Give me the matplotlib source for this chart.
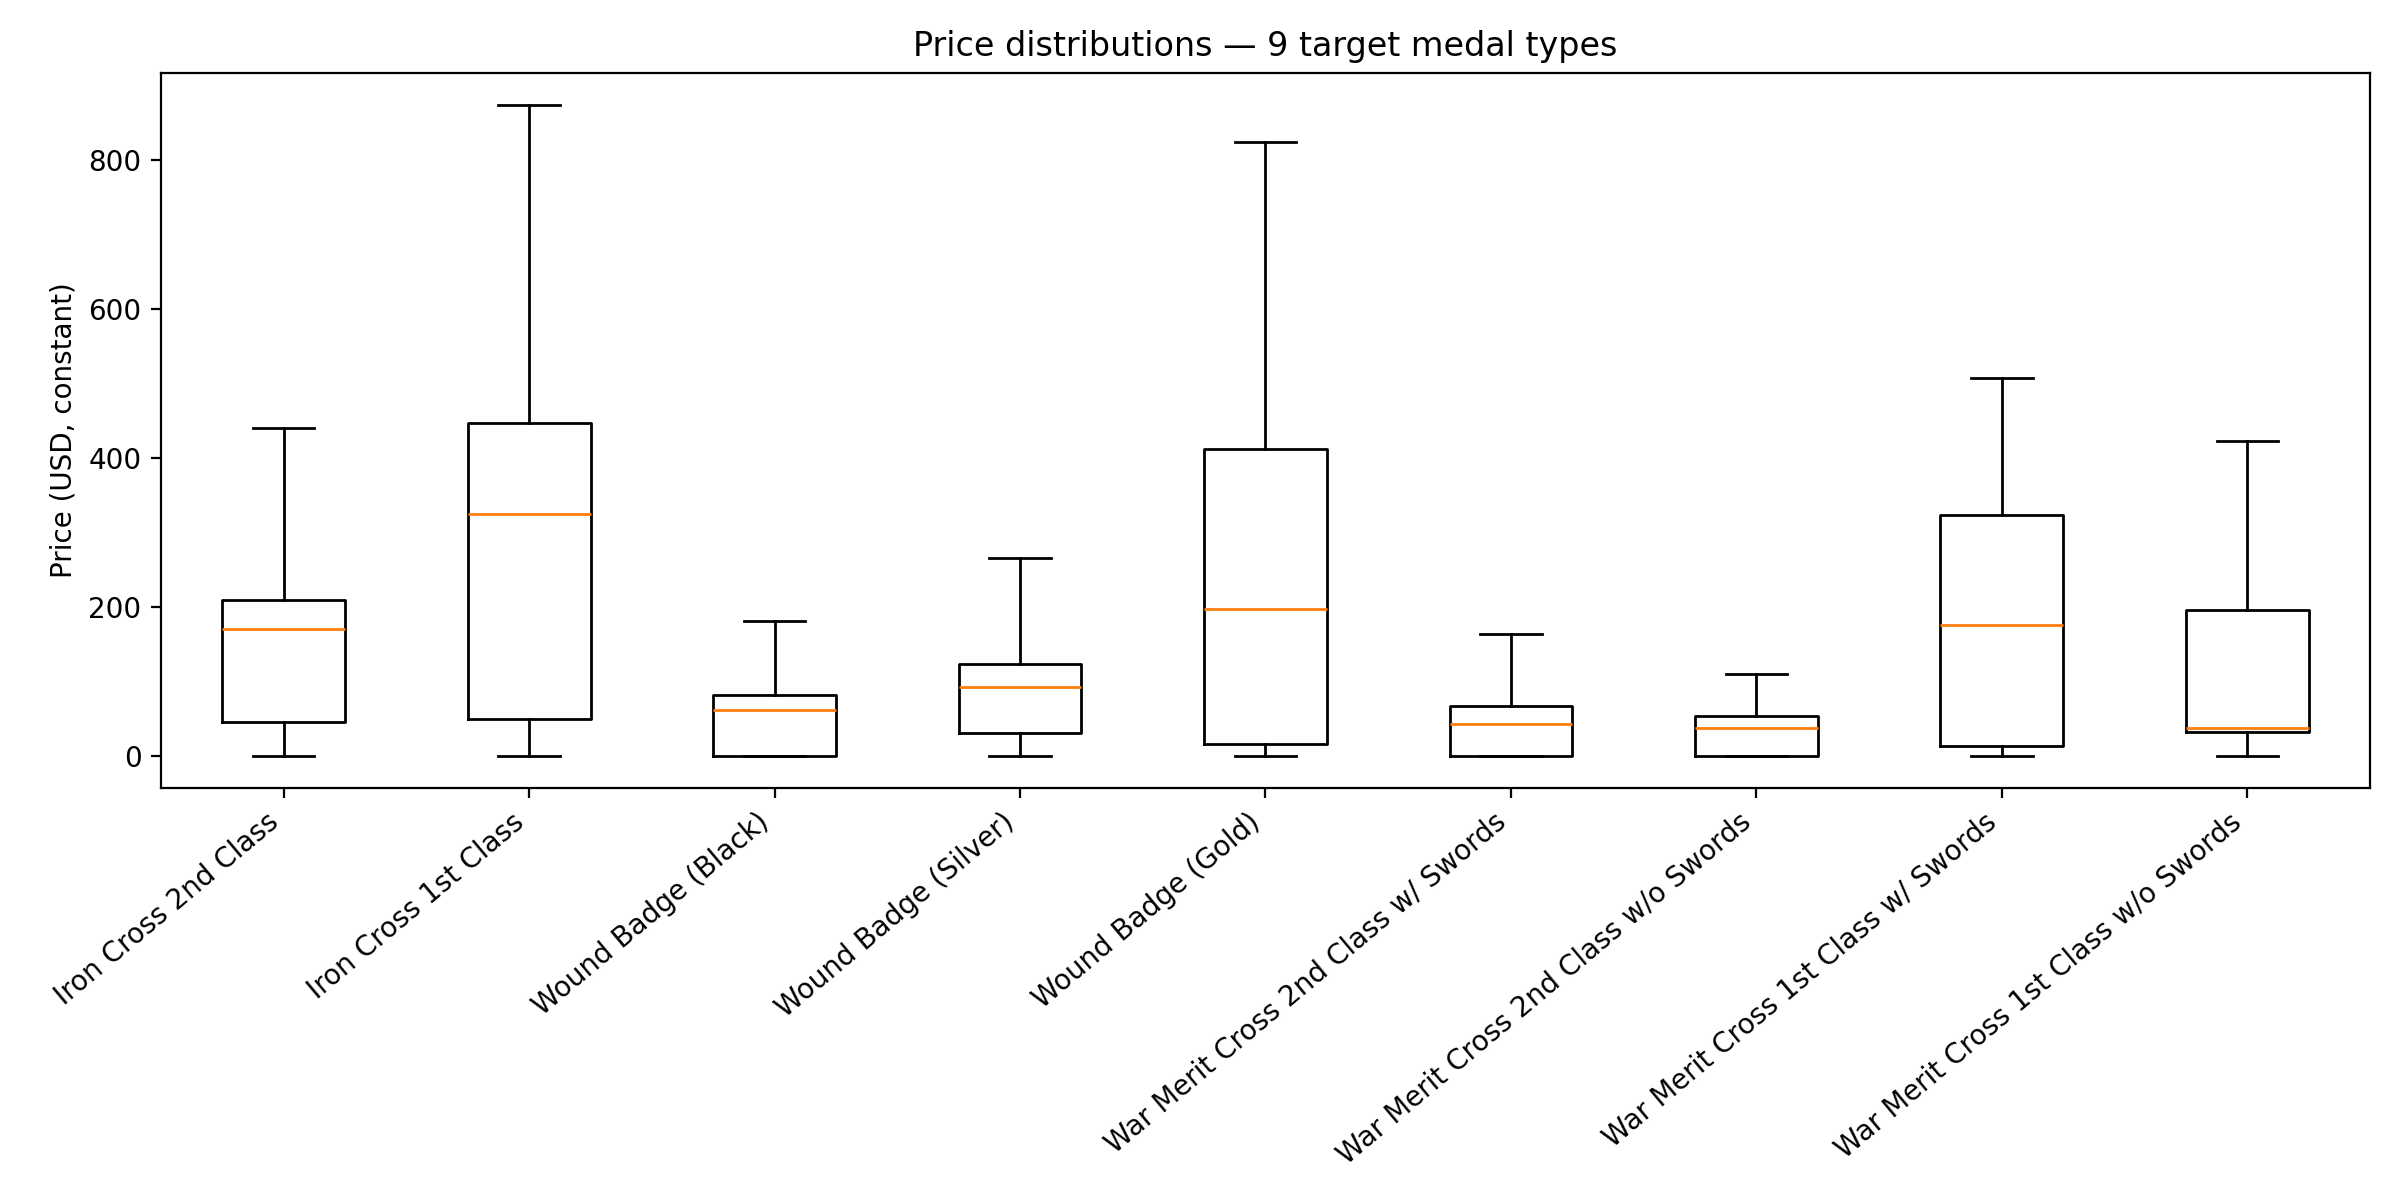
import matplotlib
matplotlib.use("Agg")
import matplotlib.pyplot as plt

# DATA
medals = ['Iron Cross 2nd Class', 'Iron Cross 1st Class', 'Wound Badge (Black)',
          'Wound Badge (Silver)', 'Wound Badge (Gold)',
          'War Merit Cross 2nd Class w/ Swords', 'War Merit Cross 2nd Class w/o Swords',
          'War Merit Cross 1st Class w/ Swords', 'War Merit Cross 1st Class w/o Swords']
whis_lo = [0, 0, 0, 0, 0, 0, 0, 0, 0]
q1 = [46, 50, 0, 30, 16, 0, 0, 13, 32]
med = [171, 325, 61, 92, 197, 43, 38, 176, 38]
q3 = [209, 447, 82, 124, 412, 67, 53, 323, 196]
whis_hi = [441, 874, 181, 266, 825, 164, 110, 508, 423]

stats = []
for i in range(len(medals)):
    stats.append({'label': medals[i], 'whislo': whis_lo[i], 'q1': q1[i], 'med': med[i],
                  'q3': q3[i], 'whishi': whis_hi[i], 'fliers': []})

# FIGURE
fig, ax = plt.subplots(figsize=(12, 6), dpi=200)
ax.bxp(stats, showfliers=False)
ax.set_title('Price distributions \u2014 9 target medal types')
ax.set_ylabel('Price (USD, constant)')
plt.setp(ax.get_xticklabels(), rotation=40, ha='right')
fig.tight_layout()
fig.savefig('out.png', dpi=200)
